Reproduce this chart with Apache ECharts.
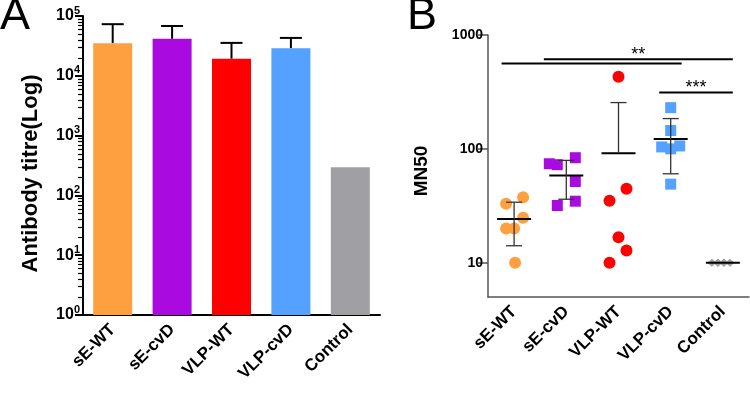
<!DOCTYPE html>
<html>
<head>
<meta charset="utf-8">
<script src="https://cdn.jsdelivr.net/npm/echarts@6/dist/echarts.min.js"></script>
<style>
  html, body { margin: 0; padding: 0; background: #fff; }
  #main { width: 750px; height: 404px; }
</style>
</head>
<body>
<div id="main"></div>
<script>
var groups = ['sE-WT', 'sE-cvD', 'VLP-WT', 'VLP-cvD', 'Control'];
var colors = ['#FFA040', '#A90ADF', '#FF0000', '#55A1FF', '#A0A0A4'];

// panel A: antibody titre (bar = mean, upper = mean + SD)
var titreMean = [35000, 41500, 19300, 29000, 295];
var titreUpper = [73000, 68000, 35500, 43000, null];
var titreTicks = [1, 10, 100, 1000, 10000, 100000];

// panel B: MN50 per animal
var mnSeWT = [10, 20, 20, 24.8, 32.9, 37.6];
var mnSeCvD = [74, 72.6, 83.6, 51.7, 34.7, 31.8];
var mnVlpWT = [429, 44.6, 35, 16.7, 12.8, 10];
var mnVlpCvD = [230, 145, 104, 100, 106, 49];
var mnControl = [10, 10, 10, 10, 10, 10];
var mnMean = [24.2, 58.4, 91.4, 122, 10];
var mnLow = [14.1, 36.1, null, 60.4, 10];
var mnHigh = [34, 79.2, 255, 184.5, 10];
var mnTicks = [10, 100, 1000];
// significance bars: from group, to group, height, label
var sigFrom = [-0.24, 0.57, 2.78];
var sigTo = [3.21, 4.19, 4.19];
var sigAt = [563, 611, 313];
var sigText = ['', '**', '***'];

// scatter spread in px (style only)
var jitter = [
  [1, -8, 0, 9, -8, 9],
  [-17, -9, 9, 9, 9, -9],
  [0, 8, -9, 0, 8, -9],
  [0, 0, -9, 0, 9, 0],
  [-11, -5, 1, 7, -5, 1]
];
var mnData = [mnSeWT, mnSeCvD, mnVlpWT, mnVlpCvD, mnControl];
var symbols = ['circle', 'rect', 'circle', 'rect', 'diamond'];
var symSizes = [12, 11, 12, 11, [9, 8]];

var FONT = 'Liberation Sans, Arial, sans-serif';

// log minor ticks 2..9 in each decade of panel A
var minorTicks = [];
for (var d = 1; d <= 10000; d *= 10) {
  for (var k = 2; k <= 9; k++) minorTicks.push(k * d);
}

var chart = echarts.init(document.getElementById('main'), null, { renderer: 'canvas' });

var scatterSeries = mnData.map(function (vals, g) {
  return {
    type: 'scatter',
    xAxisIndex: 1,
    yAxisIndex: 1,
    symbol: symbols[g],
    symbolSize: symSizes[g],
    itemStyle: { color: colors[g], opacity: 1 },
    z: 3,
    data: vals.map(function (v, i) {
      return { value: [groups[g], v], symbolOffset: [jitter[g][i], 0] };
    })
  };
});

var option = {
  backgroundColor: '#fff',
  animation: false,
  textStyle: { fontFamily: FONT },
  graphic: [
    { type: 'text', left: 0, top: -6, style: { text: 'A', fontSize: 45, fontFamily: FONT, fill: '#000' } },
    { type: 'text', left: 407, top: -6, style: { text: 'B', fontSize: 45, fontFamily: FONT, fill: '#000' } }
  ],
  grid: [
    { left: 83, right: 370, top: 16, bottom: 89, outerBoundsMode: 'none' },
    { left: 488, right: 1, top: 35, bottom: 107, outerBoundsMode: 'none' }
  ],
  xAxis: [
    {
      type: 'category', gridIndex: 0, data: groups,
      axisLine: { lineStyle: { color: '#000', width: 2 } },
      axisTick: { alignWithLabel: true, length: 10, lineStyle: { color: '#000', width: 2 } },
      axisLabel: { rotate: 45, margin: 12, color: '#000', fontSize: 17, fontWeight: 'bold', fontFamily: FONT, interval: 0 }
    },
    {
      type: 'category', gridIndex: 1, data: groups,
      axisLine: { lineStyle: { color: '#555', width: 1.5 } },
      axisTick: { alignWithLabel: true, length: 10, lineStyle: { color: '#555', width: 1.5 } },
      axisLabel: { rotate: 45, margin: 12, color: '#000', fontSize: 17, fontWeight: 'bold', fontFamily: FONT, interval: 0 }
    },
    { type: 'value', gridIndex: 1, min: -0.5, max: 4.5, show: false }
  ],
  yAxis: [
    {
      type: 'log', gridIndex: 0, logBase: 10, min: 1, max: 100000,
      name: 'Antibody titre(Log)', nameLocation: 'middle', nameGap: 41,
      nameTextStyle: { fontSize: 22, fontWeight: 'bold', color: '#000', fontFamily: FONT, padding: [0, 16, 0, 0] },
      splitLine: { show: false },
      axisLine: { show: true, onZero: false, lineStyle: { color: '#000', width: 2 } },
      axisTick: { show: true, length: 8, customValues: titreTicks, lineStyle: { color: '#000', width: 2 } },
      axisLabel: {
        customValues: titreTicks, margin: 3, fontSize: 16, fontWeight: 'bold', color: '#000',
        formatter: function (v) { return '{b|10}{s|' + Math.round(Math.log10(v)) + '}'; },
        rich: {
          b: { fontSize: 16, fontWeight: 'bold', color: '#000', fontFamily: FONT, lineHeight: 22 },
          s: { fontSize: 11, fontWeight: 'bold', color: '#000', fontFamily: FONT, lineHeight: 13, verticalAlign: 'top' }
        }
      }
    },
    {
      type: 'log', gridIndex: 1, logBase: 10, min: 5, max: 1000,
      name: 'MN50', nameLocation: 'middle', nameGap: 57,
      nameTextStyle: { fontSize: 19, fontWeight: 'bold', color: '#000', fontFamily: FONT, padding: [0, 10, 0, 0] },
      splitLine: { show: false },
      axisLine: { show: true, onZero: false, lineStyle: { color: '#555', width: 1.5 } },
      axisTick: { show: true, length: 10, customValues: mnTicks, lineStyle: { color: '#555', width: 1.5 } },
      axisLabel: {
        customValues: mnTicks, margin: 5, fontSize: 14, fontWeight: 'bold', color: '#000', fontFamily: FONT,
        formatter: function (v) { return String(Math.round(v)); }
      }
    }
  ],
  series: [
    {
      type: 'bar', xAxisIndex: 0, yAxisIndex: 0, barWidth: 39,
      data: titreMean.map(function (v, i) { return { value: v, itemStyle: { color: colors[i] } }; })
    },
    {
      // minor ticks of the log axis, placed by the axis scale
      type: 'custom', xAxisIndex: 0, yAxisIndex: 0, z: 6, silent: true, clip: false,
      encode: { x: 0, y: 1 },
      data: minorTicks.map(function (v) { return [0, v]; }),
      renderItem: function (params, api) {
        var p = api.coord([0, api.value(1)]);
        var x0 = params.coordSys.x;
        var y = Math.round(p[1]) + 0.5;
        return {
          type: 'line', shape: { x1: x0 - 5, y1: y, x2: x0, y2: y },
          style: { stroke: '#000', lineWidth: 1.2 }
        };
      }
    },
    {
      type: 'custom', xAxisIndex: 0, yAxisIndex: 0, z: 1,
      encode: { x: 0, y: [1, 2] },
      data: titreMean.map(function (v, i) { return [i, v, titreUpper[i] == null ? v : titreUpper[i]]; }),
      renderItem: function (params, api) {
        var base = api.coord([api.value(0), api.value(1)]);
        var top = api.coord([api.value(0), api.value(2)]);
        if (api.value(2) === api.value(1)) return null;
        var st = { stroke: '#000', lineWidth: 2 };
        return {
          type: 'group', children: [
            { type: 'line', shape: { x1: base[0], y1: base[1], x2: top[0], y2: top[1] }, style: st },
            { type: 'line', shape: { x1: top[0] - 11, y1: top[1], x2: top[0] + 11, y2: top[1] }, style: st }
          ]
        };
      }
    }
  ].concat(scatterSeries).concat([
    {
      type: 'custom', xAxisIndex: 1, yAxisIndex: 1, z: 5,
      encode: { x: 0, y: [1, 2, 3] },
      data: mnMean.map(function (m, i) {
        return [i, m, mnLow[i] == null ? m : mnLow[i], mnHigh[i]];
      }),
      renderItem: function (params, api) {
        var i = api.value(0);
        var mid = api.coord([i, api.value(1)]);
        var lo = api.coord([i, api.value(2)]);
        var hi = api.coord([i, api.value(3)]);
        var x = mid[0];
        var thin = { stroke: '#333', lineWidth: 1.3 };
        var children = [
          { type: 'line', shape: { x1: x - 17, y1: mid[1], x2: x + 17, y2: mid[1] }, style: { stroke: '#000', lineWidth: 2 } }
        ];
        if (hi[1] < mid[1] - 0.5) {
          children.push({ type: 'line', shape: { x1: x, y1: mid[1], x2: x, y2: hi[1] }, style: thin });
          children.push({ type: 'line', shape: { x1: x - 8, y1: hi[1], x2: x + 8, y2: hi[1] }, style: thin });
        }
        if (lo[1] > mid[1] + 0.5) {
          children.push({ type: 'line', shape: { x1: x, y1: mid[1], x2: x, y2: lo[1] }, style: thin });
          children.push({ type: 'line', shape: { x1: x - 8, y1: lo[1], x2: x + 8, y2: lo[1] }, style: thin });
        }
        return { type: 'group', children: children };
      }
    },
    {
      type: 'custom', xAxisIndex: 2, yAxisIndex: 1, z: 5,
      encode: { x: [0, 1], y: 2 },
      data: sigAt.map(function (h, i) { return [sigFrom[i], sigTo[i], h, i]; }),
      renderItem: function (params, api) {
        var a = api.coord([api.value(0), api.value(2)]);
        var b = api.coord([api.value(1), api.value(2)]);
        var label = sigText[api.value(3)];
        var children = [
          { type: 'line', shape: { x1: a[0], y1: a[1], x2: b[0], y2: b[1] }, style: { stroke: '#000', lineWidth: 2 } }
        ];
        if (label) {
          children.push({
            type: 'text', x: (a[0] + b[0]) / 2, y: a[1] - 4,
            style: { text: label, fontSize: 18, fontFamily: FONT, fill: '#000', align: 'center', verticalAlign: 'middle' }
          });
        }
        return { type: 'group', children: children };
      }
    }
  ])
};

chart.setOption(option);
</script>
</body>
</html>
